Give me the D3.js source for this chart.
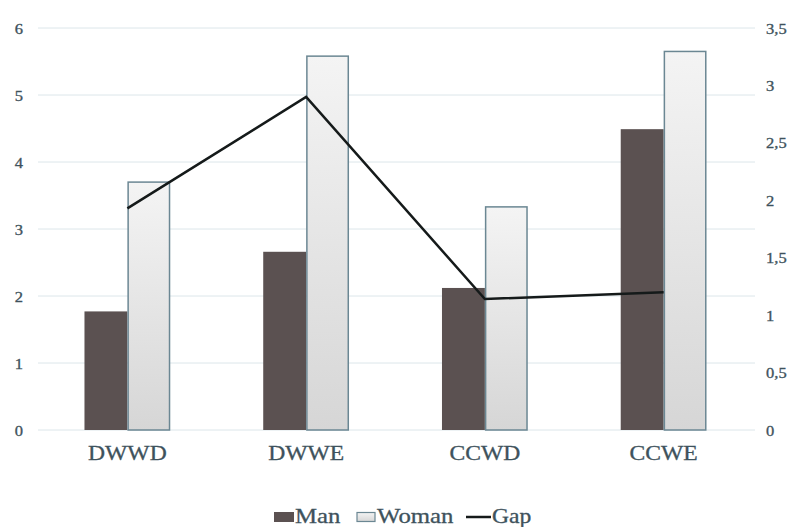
<!DOCTYPE html>
<html>
<head>
<meta charset="utf-8">
<script src="https://cdn.jsdelivr.net/npm/d3@7"></script>
<style>
  html, body { margin: 0; padding: 0; background: #fff; }
  svg { display: block; }
</style>
</head>
<body>
<svg id="chart" width="789" height="527"></svg>
<script>
// Categories and series
const categories = ["DWWD", "DWWE", "CCWD", "CCWE"];
const manValues = [1.77, 2.66, 2.12, 4.49];
const womanValues = [3.70, 5.58, 3.33, 5.65];
const gapValues = [1.93, 2.90, 1.14, 1.20];
const leftTicks = [0, 1, 2, 3, 4, 5, 6];
const rightTicks = [0, 0.5, 1, 1.5, 2, 2.5, 3, 3.5];

const FONT = "'Liberation Serif', 'Times New Roman', 'DejaVu Serif', serif";
const TEXT = "#3e525c";
const STRETCH = 1.18; // glyphs are drawn slightly wide

const svg = d3.select("#chart");
const margin = { left: 38, right: 36, top: 28, bottom: 97 };
const W = 789, H = 527;
const x0 = margin.left, x1 = W - margin.right;
const yTop = margin.top, yBot = H - margin.bottom;

const x = d3.scaleBand().domain(categories).range([x0, x1]).paddingInner(0.52).paddingOuter(0.26);
const xSub = d3.scaleBand().domain(["Man", "Woman"]).range([0, x.bandwidth()]);
const yL = d3.scaleLinear().domain([0, 6]).range([yBot, yTop]);
const yR = d3.scaleLinear().domain([0, 3.5]).range([yBot, yTop]);

const defs = svg.append("defs");
const grad = defs.append("linearGradient").attr("id", "womanFill")
  .attr("x1", 0).attr("y1", 0).attr("x2", 0).attr("y2", 1);
grad.append("stop").attr("offset", "0%").attr("stop-color", "#f4f4f4");
grad.append("stop").attr("offset", "100%").attr("stop-color", "#d6d6d6");

// helper: stretched text at a given anchor point
function label(g, px, py, str, size, anchor) {
  return g.append("text")
    .attr("transform", `translate(${px},${py}) scale(${STRETCH},1)`)
    .attr("text-anchor", anchor || "start")
    .attr("font-family", FONT)
    .attr("font-size", size)
    .attr("fill", TEXT)
    .attr("stroke", TEXT).attr("stroke-width", 0.3)
    .text(str);
}

// Gridlines
svg.append("g").selectAll("line").data(leftTicks).join("line")
  .attr("x1", x0).attr("x2", x1 + 2)
  .attr("y1", d => yL(d)).attr("y2", d => yL(d))
  .attr("stroke", "#dce6ea").attr("stroke-width", 1);

// Left axis
const axL = svg.append("g").attr("transform", `translate(${x0 - 14},0)`)
  .call(d3.axisLeft(yL).tickValues(leftTicks).tickFormat(d3.format("d")).tickSize(0).tickPadding(0));
axL.select(".domain").remove();
axL.selectAll(".tick text").each(function (d) {
  const t = d3.select(this.parentNode);
  d3.select(this).remove();
  label(t, -5, 5, d3.format("d")(d), 14, "middle");
});

// Right axis
const fmtR = d => String(d).replace(".", ",");
const axR = svg.append("g").attr("transform", `translate(${x1 + 13},0)`)
  .call(d3.axisRight(yR).tickValues(rightTicks).tickFormat(fmtR).tickSize(0).tickPadding(0));
axR.select(".domain").remove();
axR.selectAll(".tick text").each(function (d) {
  const t = d3.select(this.parentNode);
  d3.select(this).remove();
  label(t, 0, 5, fmtR(d), 14, "start");
});

// Bars
const groups = svg.append("g").selectAll("g").data(categories).join("g")
  .attr("transform", d => `translate(${x(d)},0)`);

groups.append("rect")
  .attr("x", xSub("Man"))
  .attr("width", xSub.bandwidth())
  .attr("y", (d, i) => yL(manValues[i]))
  .attr("height", (d, i) => yBot - yL(manValues[i]))
  .attr("fill", "#5b5151");

groups.append("rect")
  .attr("x", xSub("Woman") + 0.75)
  .attr("width", xSub.bandwidth() - 1.5)
  .attr("y", (d, i) => yL(womanValues[i]))
  .attr("height", (d, i) => yBot - yL(womanValues[i]))
  .attr("fill", "url(#womanFill)")
  .attr("stroke", "#6b8793").attr("stroke-width", 1.5);

// Category labels
const cat = svg.append("g");
categories.forEach(c => label(cat, x(c) + x.bandwidth() / 2, yBot + 30, c, 20, "middle"));

// Gap line on the right axis
const line = d3.line()
  .x((d, i) => x(categories[i]) + x.bandwidth() / 2)
  .y(d => yR(d));
svg.append("path").datum(gapValues)
  .attr("d", line)
  .attr("fill", "none").attr("stroke", "#151a1a").attr("stroke-width", 2.5)
  .attr("stroke-linejoin", "miter");

// Legend
const lg = svg.append("g").attr("transform", "translate(0,523)");
lg.append("rect").attr("x", 274).attr("y", -11).attr("width", 20).attr("height", 10).attr("fill", "#5b5151");
label(lg, 295, 0, "Man", 21, "start");
lg.append("rect").attr("x", 357).attr("y", -10.5).attr("width", 18).attr("height", 9)
  .attr("fill", "url(#womanFill)").attr("stroke", "#6b8793").attr("stroke-width", 1.2);
label(lg, 377, 0, "Woman", 21, "start");
lg.append("line").attr("x1", 466).attr("x2", 491).attr("y1", -6).attr("y2", -6)
  .attr("stroke", "#151a1a").attr("stroke-width", 2.5);
label(lg, 492, 0, "Gap", 20, "start");
</script>
</body>
</html>
